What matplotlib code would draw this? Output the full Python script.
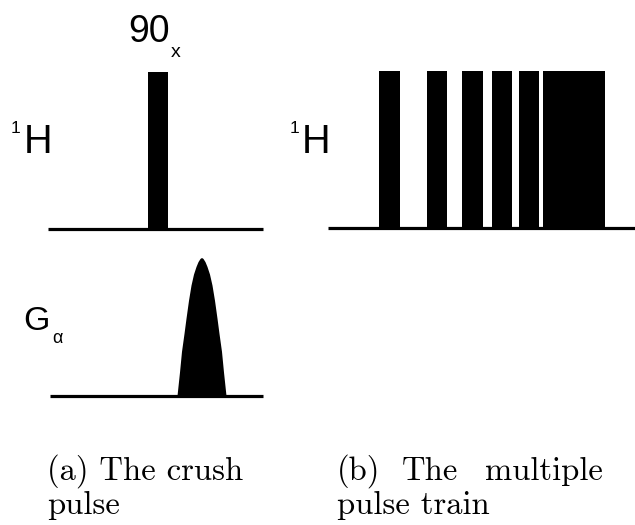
import matplotlib
matplotlib.use("Agg")
import matplotlib.pyplot as plt
from matplotlib.patches import Rectangle, Polygon

W, H = 635, 525

# RF pulse timing (start, stop) in time units along each channel
crush_rf_start = [100]
crush_rf_stop = [120]
train_rf_start = [51, 99, 134, 164, 191, 215]
train_rf_stop = [72, 119, 155, 184, 211, 277]

# crusher gradient lobe: time offsets from lobe centre and relative amplitude
grad_centre = 152
grad_offsets = [-24.5, -22.0, -20.0, -17.5, -15.5, -13.0, -10.5, -8.0, -5.5, -3.5, -1.5, 0.0,
                1.5, 3.5, 5.5, 8.0, 10.5, 13.0, 15.5, 17.5, 20.0, 22.0, 24.5]
grad_amps = [0.00, 0.17, 0.32, 0.45, 0.56, 0.69, 0.80, 0.88, 0.935, 0.97, 0.993, 1.00,
             0.993, 0.97, 0.935, 0.88, 0.80, 0.69, 0.56, 0.45, 0.32, 0.17, 0.00]

fig = plt.figure(figsize=(W / 100, H / 100), dpi=100)


def px_axes(x0, x1, ybot, ytop):
    ax = fig.add_axes([x0 / W, 1 - ybot / H, (x1 - x0) / W, (ybot - ytop) / H])
    ax.set_axis_off()
    return ax


def channel(ax, span):
    ax.set_xlim(0, span)
    ax.set_ylim(0, 1)
    ax.plot([0, span], [0, 0], color="black", lw=2.3, solid_capstyle="butt",
            clip_on=False)


# (a) 1H channel with a single 90x pulse
ax_a1 = px_axes(48, 263, 229, 72)
channel(ax_a1, 215)
for s, e in zip(crush_rf_start, crush_rf_stop):
    ax_a1.add_patch(Rectangle((s, 0), e - s, 1, color="black", lw=0))

# (a) gradient channel with the crusher lobe
ax_a2 = px_axes(50, 263, 396, 258)
channel(ax_a2, 213)
ax_a2.add_patch(Polygon([(grad_centre + o, a) for o, a in zip(grad_offsets, grad_amps)],
                        closed=True, color="black", lw=0))

# (b) 1H channel with the multiple pulse train
ax_b1 = px_axes(328, 635, 228, 71)
channel(ax_b1, 307)
for s, e in zip(train_rf_start, train_rf_stop):
    ax_b1.add_patch(Rectangle((s, 0), e - s, 1, color="black", lw=0))

# text overlay in pixel coordinates
tx = fig.add_axes([0, 0, 1, 1])
tx.set_xlim(0, W)
tx.set_ylim(H, 0)
tx.set_axis_off()
tx.patch.set_alpha(0)

sans = "Liberation Sans"
serif = "cmr10"

tx.text(128, 42, "90", fontsize=27, family=sans, va="baseline", ha="left")
tx.text(171, 57, "x", fontsize=14, family=sans, va="baseline", ha="left")

for x1, xh in [(11, 24), (290, 302)]:
    tx.text(x1, 133, "1", fontsize=12.5, family=sans, va="baseline", ha="left")
    tx.text(xh, 153, "H", fontsize=28.5, family=sans, va="baseline", ha="left")

tx.text(23, 330, "G", fontsize=24.5, family=sans, va="baseline", ha="left")
tx.text(52, 343, "α", fontsize=13, family=sans, va="baseline", ha="left")

cap = 23.5
tx.text(47, 480, "(a) The crush", fontsize=cap, family=serif, va="baseline", ha="left")
tx.text(47, 514, "pulse", fontsize=cap, family=serif, va="baseline", ha="left")
tx.text(337, 480, "(b)", fontsize=cap, family=serif, va="baseline", ha="left")
tx.text(402, 480, "The", fontsize=cap, family=serif, va="baseline", ha="left")
tx.text(603, 480, "multiple", fontsize=cap, family=serif, va="baseline", ha="right")
tx.text(337, 514, "pulse train", fontsize=cap, family=serif, va="baseline", ha="left")

fig.savefig("out.png", dpi=100)
